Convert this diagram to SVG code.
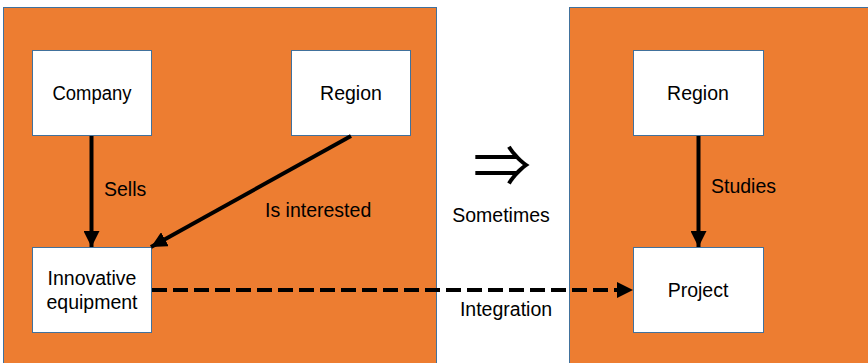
<svg xmlns="http://www.w3.org/2000/svg" width="868" height="363" viewBox="0 0 868 363">
  <style>
    .panel { fill: #ED7D31; stroke: #41719C; stroke-width: 1; }
    .box { fill: #FFFFFF; stroke: #41719C; stroke-width: 1; }
    .label { font-family: "Liberation Sans", Arial, sans-serif; font-size: 19.5px; fill: #000000; }
    .mid { text-anchor: middle; }
    .edge { stroke: #000000; stroke-width: 4; fill: none; }
    .dashed { stroke-dasharray: 15 6; }
  </style>
  <defs>
    <marker id="head" viewBox="0 0 10 10" refX="10" refY="5" markerWidth="4" markerHeight="4" orient="auto" markerUnits="strokeWidth">
      <path d="M0,0 L10,5 L0,10 Z" fill="#000000"/>
    </marker>
  </defs>

  <rect width="868" height="363" fill="#FFFFFF"/>

  <!-- background panels -->
  <rect class="panel" x="3.5" y="7.5" width="433" height="370"/>
  <rect class="panel" x="569.5" y="7.5" width="310" height="370"/>

  <!-- left panel nodes -->
  <g id="company">
    <rect class="box" x="32.5" y="50.5" width="119" height="85"/>
    <text class="label mid" x="92" y="100" textLength="79" lengthAdjust="spacingAndGlyphs">Company</text>
  </g>
  <g id="region-left">
    <rect class="box" x="291.5" y="50.5" width="119" height="85"/>
    <text class="label mid" x="351" y="100">Region</text>
  </g>
  <g id="innovative-equipment">
    <rect class="box" x="32.5" y="247.5" width="119" height="85"/>
    <text class="label mid" x="92" y="285">Innovative</text>
    <text class="label mid" x="92" y="309">equipment</text>
  </g>

  <!-- right panel nodes -->
  <g id="region-right">
    <rect class="box" x="633.5" y="50.5" width="130" height="85"/>
    <text class="label mid" x="698" y="100">Region</text>
  </g>
  <g id="project">
    <rect class="box" x="633.5" y="247.5" width="130" height="85"/>
    <text class="label mid" x="698" y="297">Project</text>
  </g>

  <!-- connectors -->
  <g id="connectors">
    <line class="edge" x1="91.5" y1="136" x2="91.5" y2="247" marker-end="url(#head)"/>
    <line class="edge" x1="351" y1="136" x2="151" y2="247" marker-end="url(#head)"/>
    <line class="edge" x1="698.5" y1="136" x2="698.5" y2="247" marker-end="url(#head)"/>
    <line class="edge dashed" x1="152" y1="290" x2="633" y2="290" marker-end="url(#head)"/>
    <text class="label" x="104" y="196">Sells</text>
    <text class="label" x="265" y="217">Is interested</text>
    <text class="label" x="711" y="193">Studies</text>
    <text class="label mid" x="506" y="316">Integration</text>
  </g>

  <!-- implication between the panels -->
  <g id="sometimes">
    <text x="502" y="187" text-anchor="middle" font-family="Noto Sans CJK JP, sans-serif" font-size="58">⇒</text>
    <text class="label mid" x="501" y="222">Sometimes</text>
  </g>
</svg>
